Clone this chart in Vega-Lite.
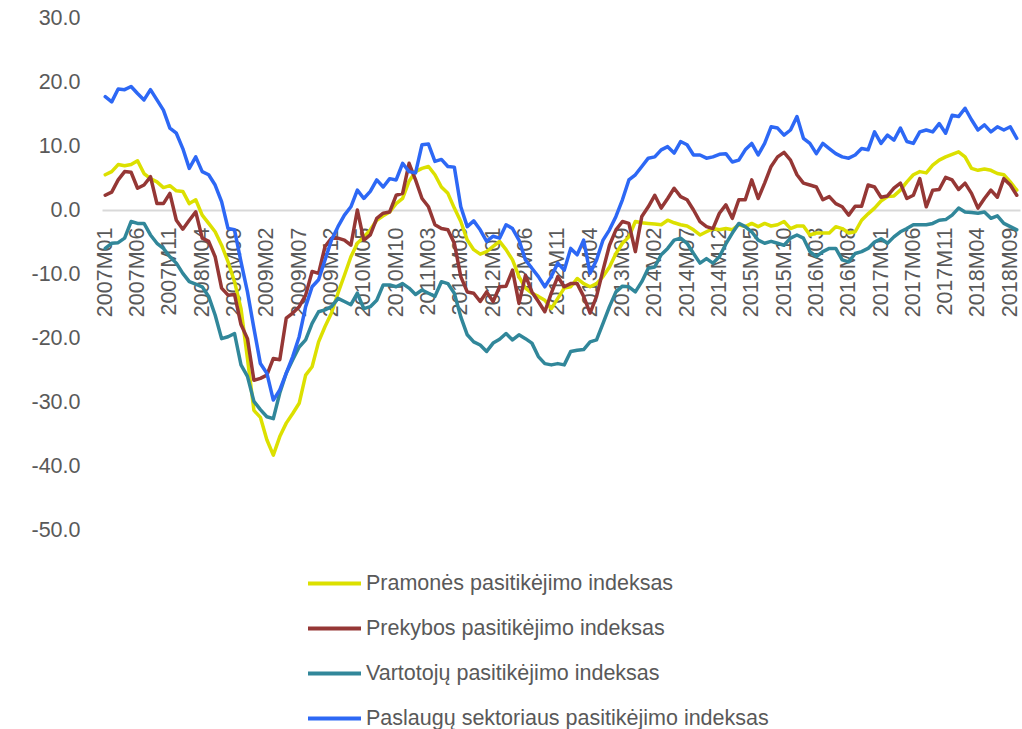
{
"$schema": "https://vega.github.io/schema/vega-lite/v6.json",
"width": 918, "height": 512,
"autosize": "none",
"padding": {"left": 102, "top": 18, "right": 2, "bottom": 199},
"background": "white",
"config": {"view": {"stroke": null}, "font": "Liberation Sans"},
"data": {"values": [
{"m":"2007M01","P":5.5,"K":2.3,"V":-6.0,"S":17.7},
{"m":"2007M02","P":6.0,"K":2.8,"V":-5.2,"S":16.9},
{"m":"2007M03","P":7.1,"K":4.7,"V":-5.1,"S":18.9},
{"m":"2007M04","P":6.9,"K":6.0,"V":-4.4,"S":18.8},
{"m":"2007M05","P":7.1,"K":5.9,"V":-1.8,"S":19.3},
{"m":"2007M06","P":7.7,"K":3.4,"V":-2.1,"S":18.2},
{"m":"2007M07","P":5.7,"K":3.9,"V":-2.1,"S":17.2},
{"m":"2007M08","P":4.9,"K":5.2,"V":-3.9,"S":18.8},
{"m":"2007M09","P":4.4,"K":1.0,"V":-5.2,"S":17.2},
{"m":"2007M10","P":3.5,"K":1.0,"V":-6.0,"S":15.6},
{"m":"2007M11","P":3.8,"K":2.6,"V":-7.3,"S":12.8},
{"m":"2007M12","P":3.0,"K":-1.6,"V":-8.3,"S":12.0},
{"m":"2008M01","P":2.9,"K":-3.0,"V":-9.9,"S":9.6},
{"m":"2008M02","P":1.0,"K":-1.6,"V":-11.2,"S":6.5},
{"m":"2008M03","P":1.6,"K":-0.3,"V":-11.6,"S":8.3},
{"m":"2008M04","P":-0.8,"K":-4.4,"V":-12.0,"S":6.0},
{"m":"2008M05","P":-2.1,"K":-4.9,"V":-13.5,"S":5.5},
{"m":"2008M06","P":-3.4,"K":-7.3,"V":-16.4,"S":3.9},
{"m":"2008M07","P":-5.5,"K":-12.2,"V":-20.1,"S":1.3},
{"m":"2008M08","P":-8.1,"K":-13.3,"V":-19.8,"S":-2.9},
{"m":"2008M09","P":-11.2,"K":-13.2,"V":-19.3,"S":-3.1},
{"m":"2008M10","P":-15.4,"K":-17.9,"V":-24.2,"S":-8.1},
{"m":"2008M11","P":-23.2,"K":-20.1,"V":-26.0,"S":-12.8},
{"m":"2008M12","P":-31.3,"K":-26.6,"V":-29.9,"S":-18.5},
{"m":"2009M01","P":-32.4,"K":-26.3,"V":-31.2,"S":-24.0},
{"m":"2009M02","P":-35.9,"K":-25.8,"V":-32.3,"S":-25.5},
{"m":"2009M03","P":-38.3,"K":-23.2,"V":-32.6,"S":-29.7},
{"m":"2009M04","P":-35.4,"K":-23.4,"V":-28.6,"S":-28.1},
{"m":"2009M05","P":-33.3,"K":-16.9,"V":-25.5,"S":-25.5},
{"m":"2009M06","P":-31.8,"K":-16.1,"V":-23.4,"S":-22.9},
{"m":"2009M07","P":-30.2,"K":-15.1,"V":-21.4,"S":-19.8},
{"m":"2009M08","P":-25.8,"K":-13.3,"V":-20.3,"S":-15.1},
{"m":"2009M09","P":-24.5,"K":-9.6,"V":-17.7,"S":-12.0},
{"m":"2009M10","P":-20.6,"K":-9.9,"V":-15.9,"S":-10.9},
{"m":"2009M11","P":-18.2,"K":-5.7,"V":-15.6,"S":-7.8},
{"m":"2009M12","P":-16.1,"K":-4.4,"V":-15.1,"S":-4.7},
{"m":"2010M01","P":-13.0,"K":-4.4,"V":-13.8,"S":-2.6},
{"m":"2010M02","P":-10.2,"K":-4.7,"V":-14.3,"S":-0.8},
{"m":"2010M03","P":-7.3,"K":-5.5,"V":-14.8,"S":0.5},
{"m":"2010M04","P":-5.2,"K":0.0,"V":-13.0,"S":3.1},
{"m":"2010M05","P":-4.2,"K":-4.7,"V":-15.4,"S":1.8},
{"m":"2010M06","P":-3.1,"K":-3.9,"V":-15.1,"S":2.9},
{"m":"2010M07","P":-1.6,"K":-1.3,"V":-14.1,"S":4.7},
{"m":"2010M08","P":-0.9,"K":-0.5,"V":-11.7,"S":3.6},
{"m":"2010M09","P":-0.3,"K":-0.3,"V":-11.7,"S":4.9},
{"m":"2010M10","P":1.0,"K":2.3,"V":-12.0,"S":4.7},
{"m":"2010M11","P":1.8,"K":2.6,"V":-11.5,"S":7.3},
{"m":"2010M12","P":4.5,"K":7.3,"V":-12.2,"S":6.0},
{"m":"2011M01","P":6.0,"K":4.7,"V":-13.2,"S":5.8},
{"m":"2011M02","P":6.5,"K":1.8,"V":-12.5,"S":10.2},
{"m":"2011M03","P":6.8,"K":0.5,"V":-13.0,"S":10.3},
{"m":"2011M04","P":5.5,"K":-2.3,"V":-13.5,"S":7.6},
{"m":"2011M05","P":3.6,"K":-2.9,"V":-11.2,"S":7.9},
{"m":"2011M06","P":2.6,"K":-3.1,"V":-11.5,"S":6.8},
{"m":"2011M07","P":0.3,"K":-5.2,"V":-13.0,"S":6.7},
{"m":"2011M08","P":-1.8,"K":-10.4,"V":-16.7,"S":0.5},
{"m":"2011M09","P":-4.7,"K":-12.8,"V":-19.5,"S":-2.6},
{"m":"2011M10","P":-6.2,"K":-13.0,"V":-20.6,"S":-1.7},
{"m":"2011M11","P":-6.9,"K":-14.3,"V":-21.1,"S":-3.1},
{"m":"2011M12","P":-6.5,"K":-12.8,"V":-22.1,"S":-4.9},
{"m":"2012M01","P":-5.7,"K":-14.3,"V":-20.8,"S":-4.1},
{"m":"2012M02","P":-4.9,"K":-12.0,"V":-20.2,"S":-4.4},
{"m":"2012M03","P":-6.2,"K":-11.9,"V":-19.3,"S":-2.3},
{"m":"2012M04","P":-7.8,"K":-9.4,"V":-20.3,"S":-2.9},
{"m":"2012M05","P":-10.4,"K":-14.6,"V":-19.5,"S":-4.7},
{"m":"2012M06","P":-12.2,"K":-10.2,"V":-20.1,"S":-7.8},
{"m":"2012M07","P":-13.0,"K":-12.8,"V":-20.8,"S":-9.1},
{"m":"2012M08","P":-13.5,"K":-14.3,"V":-22.9,"S":-10.4},
{"m":"2012M09","P":-14.1,"K":-15.9,"V":-24.0,"S":-12.0},
{"m":"2012M10","P":-15.4,"K":-13.0,"V":-24.2,"S":-10.4},
{"m":"2012M11","P":-13.8,"K":-10.4,"V":-24.0,"S":-8.3},
{"m":"2012M12","P":-12.2,"K":-12.0,"V":-24.2,"S":-9.4},
{"m":"2013M01","P":-12.0,"K":-11.5,"V":-22.1,"S":-6.0},
{"m":"2013M02","P":-10.7,"K":-11.5,"V":-21.9,"S":-7.0},
{"m":"2013M03","P":-11.5,"K":-13.5,"V":-21.8,"S":-4.7},
{"m":"2013M04","P":-12.0,"K":-16.1,"V":-20.6,"S":-9.9},
{"m":"2013M05","P":-11.5,"K":-13.5,"V":-20.3,"S":-7.8},
{"m":"2013M06","P":-10.4,"K":-9.4,"V":-17.7,"S":-4.7},
{"m":"2013M07","P":-8.9,"K":-5.5,"V":-15.1,"S":-3.1},
{"m":"2013M08","P":-6.8,"K":-3.1,"V":-12.8,"S":-1.0},
{"m":"2013M09","P":-5.2,"K":-1.8,"V":-11.9,"S":1.6},
{"m":"2013M10","P":-4.2,"K":-2.1,"V":-12.0,"S":4.7},
{"m":"2013M11","P":-1.8,"K":-6.5,"V":-12.8,"S":5.5},
{"m":"2013M12","P":-2.0,"K":-1.0,"V":-11.2,"S":6.8},
{"m":"2014M01","P":-2.1,"K":0.5,"V":-9.1,"S":8.1},
{"m":"2014M02","P":-2.2,"K":2.3,"V":-8.9,"S":8.3},
{"m":"2014M03","P":-2.3,"K":0.3,"V":-7.0,"S":9.4},
{"m":"2014M04","P":-1.6,"K":1.8,"V":-6.0,"S":9.9},
{"m":"2014M05","P":-2.0,"K":3.4,"V":-4.7,"S":8.9},
{"m":"2014M06","P":-2.3,"K":2.1,"V":-4.4,"S":10.7},
{"m":"2014M07","P":-2.5,"K":1.6,"V":-5.2,"S":10.2},
{"m":"2014M08","P":-3.1,"K":0.0,"V":-6.8,"S":8.6},
{"m":"2014M09","P":-3.9,"K":-1.8,"V":-8.3,"S":8.6},
{"m":"2014M10","P":-3.4,"K":-2.6,"V":-7.6,"S":8.1},
{"m":"2014M11","P":-2.9,"K":-2.9,"V":-8.3,"S":8.3},
{"m":"2014M12","P":-3.1,"K":-0.5,"V":-7.3,"S":8.7},
{"m":"2015M01","P":-2.9,"K":0.8,"V":-5.3,"S":8.8},
{"m":"2015M02","P":-3.1,"K":-1.3,"V":-3.6,"S":7.5},
{"m":"2015M03","P":-2.3,"K":1.6,"V":-2.1,"S":7.8},
{"m":"2015M04","P":-2.6,"K":1.6,"V":-2.6,"S":9.4},
{"m":"2015M05","P":-2.1,"K":4.7,"V":-3.4,"S":10.4},
{"m":"2015M06","P":-2.6,"K":1.8,"V":-4.7,"S":8.6},
{"m":"2015M07","P":-2.1,"K":4.2,"V":-5.2,"S":10.4},
{"m":"2015M08","P":-2.5,"K":6.8,"V":-4.9,"S":13.0},
{"m":"2015M09","P":-2.3,"K":8.3,"V":-5.2,"S":12.8},
{"m":"2015M10","P":-1.8,"K":9.0,"V":-5.5,"S":11.7},
{"m":"2015M11","P":-2.9,"K":7.8,"V":-4.4,"S":12.5},
{"m":"2015M12","P":-2.5,"K":5.5,"V":-3.9,"S":14.6},
{"m":"2016M01","P":-2.5,"K":4.2,"V":-4.4,"S":11.2},
{"m":"2016M02","P":-3.9,"K":3.9,"V":-6.5,"S":10.4},
{"m":"2016M03","P":-3.6,"K":3.6,"V":-7.3,"S":8.8},
{"m":"2016M04","P":-3.6,"K":1.6,"V":-6.5,"S":10.4},
{"m":"2016M05","P":-3.6,"K":2.1,"V":-6.0,"S":9.6},
{"m":"2016M06","P":-2.6,"K":1.0,"V":-6.0,"S":8.8},
{"m":"2016M07","P":-2.9,"K":0.5,"V":-7.8,"S":8.3},
{"m":"2016M08","P":-3.6,"K":-0.8,"V":-8.1,"S":8.1},
{"m":"2016M09","P":-3.4,"K":0.6,"V":-6.8,"S":8.6},
{"m":"2016M10","P":-1.6,"K":0.6,"V":-6.5,"S":9.6},
{"m":"2016M11","P":-0.6,"K":3.9,"V":-6.0,"S":9.4},
{"m":"2016M12","P":0.3,"K":3.6,"V":-5.0,"S":12.2},
{"m":"2017M01","P":1.4,"K":2.0,"V":-4.5,"S":10.4},
{"m":"2017M02","P":2.1,"K":2.2,"V":-5.2,"S":11.7},
{"m":"2017M03","P":2.2,"K":3.4,"V":-4.2,"S":10.9},
{"m":"2017M04","P":3.1,"K":4.2,"V":-3.4,"S":12.8},
{"m":"2017M05","P":4.4,"K":1.8,"V":-2.9,"S":10.7},
{"m":"2017M06","P":5.5,"K":2.3,"V":-2.3,"S":10.4},
{"m":"2017M07","P":6.0,"K":4.9,"V":-2.3,"S":12.2},
{"m":"2017M08","P":5.8,"K":0.5,"V":-2.3,"S":12.5},
{"m":"2017M09","P":7.0,"K":3.1,"V":-2.1,"S":12.2},
{"m":"2017M10","P":7.8,"K":3.2,"V":-1.6,"S":13.5},
{"m":"2017M11","P":8.3,"K":5.1,"V":-1.5,"S":12.0},
{"m":"2017M12","P":8.7,"K":4.7,"V":-0.8,"S":14.8},
{"m":"2018M01","P":9.1,"K":3.2,"V":0.3,"S":14.6},
{"m":"2018M02","P":8.3,"K":4.2,"V":-0.3,"S":15.9},
{"m":"2018M03","P":6.5,"K":2.6,"V":-0.4,"S":14.1},
{"m":"2018M04","P":6.2,"K":0.3,"V":-0.5,"S":12.5},
{"m":"2018M05","P":6.4,"K":1.8,"V":-0.3,"S":13.3},
{"m":"2018M06","P":6.2,"K":3.1,"V":-1.3,"S":12.2},
{"m":"2018M07","P":5.7,"K":2.0,"V":-0.9,"S":13.0},
{"m":"2018M08","P":5.5,"K":4.9,"V":-2.1,"S":12.5},
{"m":"2018M09","P":4.4,"K":3.9,"V":-2.6,"S":13.0},
{"m":"2018M10","P":3.1,"K":2.3,"V":-3.1,"S":11.2}
]},
"transform": [{"fold": ["P","K","V","S"], "as": ["series","value"]}],
"mark": {"type": "line", "strokeWidth": 3.5, "strokeJoin": "round", "strokeCap": "round"},
"encoding": {
  "x": {"field": "m", "type": "ordinal", "sort": null,
    "scale": {"type": "point", "padding": 0.5},
    "axis": {"orient": "bottom", "offset": -320, "title": null, "zindex": 0,
      "values": ["2007M01","2007M06","2007M11","2008M04","2008M09","2009M02","2009M07","2009M12","2010M05","2010M10","2011M03","2011M08","2012M01","2012M06","2012M11","2013M04","2013M09","2014M02","2014M07","2014M12","2015M05","2015M10","2016M03","2016M08","2017M01","2017M06","2017M11","2018M04","2018M09"],
      "labelAngle": 270, "labelFontSize": 21.5, "labelColor": "#595959", "labelPadding": 17,
      "labelOverlap": false, "labelBound": false, "labelFlush": false,
      "ticks": false, "tickSize": 0, "grid": false,
      "domainColor": "#d9d9d9", "domainWidth": 2}},
  "y": {"field": "value", "type": "quantitative",
    "scale": {"domain": [-50, 30], "nice": false, "zero": false},
    "axis": {"title": null, "values": [-50,-40,-30,-20,-10,0,10,20,30],
      "labelExpr": "(datum.value < 0 ? '-' : '') + format(abs(datum.value), '.1f')",
      "labelFontSize": 21.5, "labelColor": "#595959", "labelPadding": 22,
      "ticks": false, "tickSize": 0, "domain": false, "grid": false}},
  "color": {"field": "series", "type": "nominal",
    "scale": {"domain": ["P","K","V","S"], "range": ["#dce000","#953735","#31879a","#2d68f5"]},
    "legend": {"orient": "none", "legendX": 204, "legendY": 537, "direction": "vertical",
      "title": null, "padding": 0, "symbolType": "stroke", "symbolSize": 2809, "symbolStrokeWidth": 4,
      "labelFontSize": 21.5, "labelColor": "#595959", "labelOffset": 3, "rowPadding": 6, "labelLimit": 0,
      "labelExpr": "datum.value == 'P' ? 'Pramonės pasitikėjimo indeksas' : datum.value == 'K' ? 'Prekybos pasitikėjimo indeksas' : datum.value == 'V' ? 'Vartotojų pasitikėjimo indeksas' : 'Paslaugų sektoriaus pasitikėjimo indeksas'"}}
}
}
